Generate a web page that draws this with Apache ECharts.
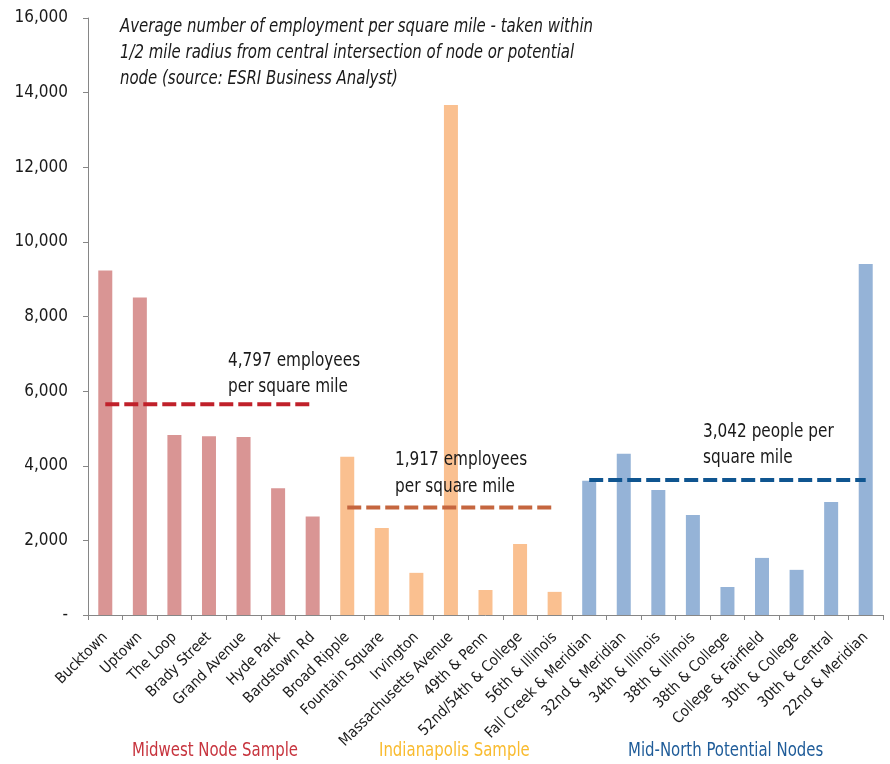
<!DOCTYPE html>
<html>
<head>
<meta charset="utf-8">
<script src="https://cdn.jsdelivr.net/npm/echarts@6/dist/echarts.min.js"></script>
<style>
html,body{margin:0;padding:0;background:#fff;}
#chart{width:890px;height:764px;}
</style>
</head>
<body>
<div id="chart"></div>
<script>
// ---- data ----
const categories = ["Bucktown","Uptown","The Loop","Brady Street","Grand Avenue","Hyde Park","Bardstown Rd",
  "Broad Ripple","Fountain Square","Irvington","Massachusetts Avenue","49th & Penn","52nd/54th & College","56th & Illinois",
  "Fall Creek & Meridian","32nd & Meridian","34th & Illinois","38th & Illinois","38th & College","College & Fairfield","30th & College","30th & Central","22nd & Meridian"];
const values = [9230,8510,4825,4790,4770,3400,2640,
  4240,2330,1130,13670,670,1900,620,
  3600,4320,3350,2680,750,1530,1210,3030,9410];
const groupOf = [0,0,0,0,0,0,0, 1,1,1,1,1,1,1, 2,2,2,2,2,2,2,2,2];
const groupNames = ["Midwest Node Sample","Indianapolis Sample","Mid-North Potential Nodes"];
const groupLineValues = [5650, 2880, 3620];
const annotationTexts = ["4,797 employees\nper square mile","1,917 employees\nper square mile","3,042 people per\nsquare mile"];
const noteText = "Average number of employment per square mile - taken within\n1/2 mile radius from central intersection of node or potential\nnode (source: ESRI Business Analyst)";

// ---- styles ----
const barColors = ["#D99594","#FAC090","#95B3D7"];
const lineColors = ["#C0202A","#C5663F","#0F5590"];
const groupLabelColors = ["#C7343E","#F9BB2E","#1F5C99"];
const FONT = "'DejaVu Sans Condensed','Liberation Sans Narrow',sans-serif";

const chart = echarts.init(document.getElementById('chart'), null, {renderer:'canvas'});

const barData = values.map((v,i)=>({value:v, itemStyle:{color:barColors[groupOf[i]]}}));
const lineSeries = groupLineValues.map((lv,g)=>({
  type:'line',
  data: categories.map((c,i)=> groupOf[i]===g ? lv : null),
  symbol:'none',
  lineStyle:{color:lineColors[g], width:4, type:[14,5], cap:'butt'},
  z:5,
  silent:true
}));

function txt(x, y, text, size, color, sx, italic, lh){
  return {type:'text', x:x, y:y, scaleX:sx, scaleY:1, z:100,
    style:{text:text, font:(italic?'italic ':'')+size+'px '+FONT, fill:color, lineHeight:lh||Math.round(size*1.3)}};
}

const option = {
  animation:false,
  grid:{left:88, right:7, top:18, bottom:149},
  xAxis:{
    type:'category',
    data:categories,
    axisLine:{lineStyle:{color:'#868686', width:1}},
    axisTick:{show:true, interval:0, length:5, lineStyle:{color:'#868686'}},
    axisLabel:{interval:0, rotate:45, color:'#1a1a1a', fontFamily:FONT, fontSize:15, margin:20}
  },
  yAxis:{
    type:'value',
    min:0, max:16000, interval:2000,
    splitLine:{show:false},
    axisLine:{show:true, lineStyle:{color:'#868686'}},
    axisTick:{show:true, length:5, lineStyle:{color:'#868686'}},
    axisLabel:{color:'#1a1a1a', fontFamily:FONT, fontSize:17, margin:20,
      formatter:v=> v===0 ? '-' : v.toLocaleString('en-US')}
  },
  series:[
    {type:'bar', data:barData, barWidth:14, silent:true},
    ...lineSeries
  ],
  graphic:[
    txt(120, 14, noteText, 20, '#1a1a1a', 0.83, true, 26),
    txt(228, 348, annotationTexts[0], 20, '#1a1a1a', 0.85, false, 26),
    txt(395, 446, annotationTexts[1], 20, '#1a1a1a', 0.85, false, 27),
    txt(703, 419, annotationTexts[2], 20, '#1a1a1a', 0.85, false, 26),
    txt(132, 738, groupNames[0], 20, groupLabelColors[0], 0.83),
    txt(379, 738, groupNames[1], 20, groupLabelColors[1], 0.83),
    txt(628, 738, groupNames[2], 20, groupLabelColors[2], 0.83)
  ]
};
chart.setOption(option);
</script>
</body>
</html>
